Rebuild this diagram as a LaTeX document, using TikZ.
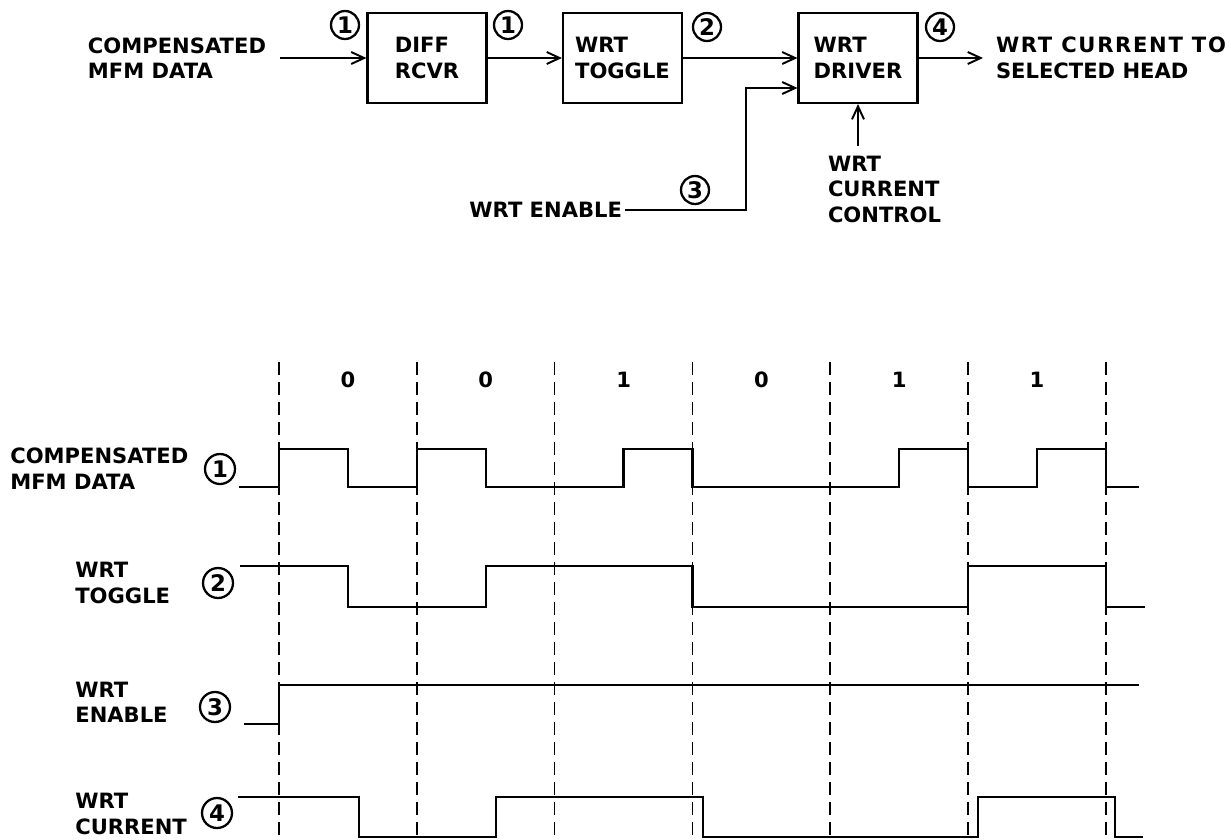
\documentclass[tikz,border=0pt]{standalone}
\usepackage{fontspec}
\setmainfont{DejaVu Sans}
\newfontfamily\widelbl{DejaVu Sans}[LetterSpace=8]
\usetikzlibrary{arrows.meta,positioning}

\tikzset{
  lbl/.style={font=\bfseries\fontsize{12}{14.5}\selectfont, align=left, inner sep=0pt},
  blk/.style={lbl, draw, line width=1.2pt, minimum width=2.38cm, minimum height=1.8cm},
  num/.style={circle, draw, line width=1.3pt, minimum size=0.56cm, inner sep=0pt,
    font=\bfseries\fontsize{13}{13}\selectfont},
  bignum/.style={num, minimum size=0.6cm},
  bit/.style={font=\bfseries\fontsize{12}{12}\selectfont, inner sep=0pt},
  sig/.style={line width=1.3pt},
  cell/.style={line width=1pt, dash pattern=on 0.26cm off 0.14cm},
  arr/.style={line width=1.1pt, -{Straight Barb[length=2.6mm,width=2.4mm]}},
}

\begin{document}
\begin{tikzpicture}[x=0.02cm, y=-0.02cm]
    \useasboundingbox (0,0) rectangle (1231,839);

    % Block diagram
    \node[blk] (rcvr) at (427,58) {DIFF\\RCVR};
    \node[blk] (tgl) at (622.5,58) {WRT\\TOGGLE};
    \node[blk] (drv) at (858,58) {WRT\\DRIVER};
    \node[lbl, anchor=east, outer sep=0.28cm] (mfm) at (280,58) {COMPENSATED\\MFM DATA};
    \node[lbl, anchor=west, outer sep=0.26cm] (head) at (983,58)
        {{\widelbl WRT CURRENT TO}\\SELECTED HEAD};
    \node[lbl, anchor=east, outer sep=0.06cm] (en) at (625,210) {WRT ENABLE};
    \node[lbl, anchor=north west, outer sep=0.2cm] (ctl) at (818,146) {WRT\\CURRENT\\CONTROL};
    \draw[arr] (mfm) -- (rcvr);
    \draw[arr] (rcvr) -- (tgl);
    \draw[arr] (tgl) -- (drv);
    \draw[arr] (drv) -- (head);
    \draw[arr] (en.east) -- ++(121,0) |- ([yshift=-0.6cm]drv.west);
    \draw[arr] (drv.south |- ctl.north) -- (drv.south);
    \node[num] (t1) at (345,25) {1};
    \node[num] (t1b) at (508,25) {1};
    \node[num] (t2) at (707,27) {2};
    \node[num] (t3) at (695,190) {3};
    \node[num] (t4) at (940,27) {4};

    % Bit cells
    \foreach \i in {0,...,6}
        \draw[cell] (279+\i*137.8,362) -- (279+\i*137.8,839);
    \foreach \b [count=\i from 0] in {0,0,1,0,1,1}
        \node[bit] (bit\i) at (348+\i*137.8,380) {\b};

    % Waveforms
    \node[lbl, anchor=west] (sdata) at (10,468.5) {COMPENSATED\\MFM DATA};
    \node[lbl, anchor=west] (stgl) at (75,583) {WRT\\TOGGLE};
    \node[lbl, anchor=west] (sen) at (75,702.5) {WRT\\ENABLE};
    \node[lbl, anchor=west] (scur) at (75,814) {WRT\\CURRENT};
    \node[bignum] (w1) at (220,469) {1};
    \node[bignum] (w2) at (218,583) {2};
    \node[bignum] (w3) at (215,707) {3};
    \node[bignum] (w4) at (217,813) {4};
    \draw[sig] (239,487) -| (279,449) -| (347.9,487) -| (416.8,449) -| (485.7,487)
        -| (623.5,449) -| (692.4,487) -| (899.1,449) -| (968,487) -| (1036.9,449)
        -| (1105.8,487) -- (1139,487);
    \draw[sig] (240,566) -| (347.9,607) -| (485.7,566) -| (692.4,607) -| (968,566)
        -| (1105.8,607) -- (1145,607);
    \draw[sig] (244,724) -| (279,685) -- (1139,685);
    \draw[sig] (238,797) -| (359,837) -| (496,797) -| (703,837) -| (978,797)
        -| (1115,837) -- (1143,837);
\end{tikzpicture}
\end{document}
